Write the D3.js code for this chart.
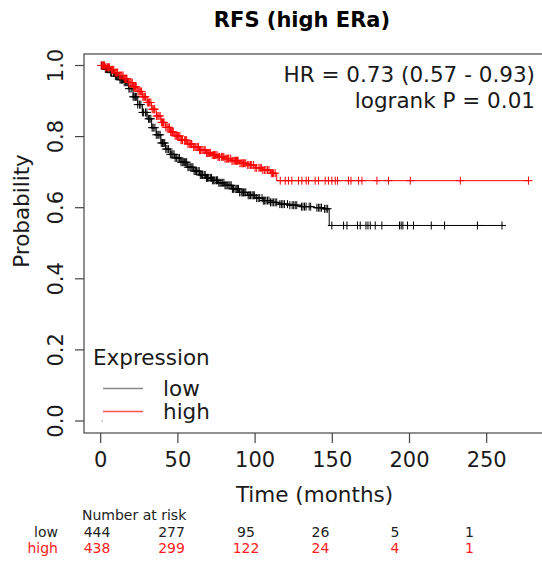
<!DOCTYPE html>
<html lang="en">
<head>
  <meta charset="utf-8">
  <title>RFS (high ERa)</title>
  <script src="https://cdn.jsdelivr.net/npm/d3@7"></script>
  <style>
    body { margin: 0; background: #fff; }
    svg { font-family: "DejaVu Sans", sans-serif; }
  </style>
</head>
<body>
<svg width="542" height="561"></svg>
<script>

  // survival steps: [months, probability]
  var lowSteps = [
    [0, 1.0], [3, 0.99], [6, 0.98], [9, 0.97], [12, 0.96], [15, 0.953], [18, 0.935],
    [21, 0.912], [24, 0.89], [27, 0.868], [30, 0.85], [33, 0.825], [36, 0.805],
    [39, 0.782], [42, 0.765], [45, 0.75], [48, 0.74], [52, 0.728], [56, 0.714],
    [60, 0.703], [64, 0.692], [68, 0.684], [72, 0.677], [76, 0.67], [80, 0.663],
    [85, 0.653], [90, 0.643], [95, 0.635], [100, 0.627], [105, 0.62], [110, 0.615],
    [115, 0.61], [122, 0.607], [130, 0.603], [138, 0.6], [144, 0.597], [148, 0.55]
  ];
  var lowEnd = 260;

  var highSteps = [
    [0, 1.0], [3, 0.995], [6, 0.988], [9, 0.98], [12, 0.972], [15, 0.963], [18, 0.952],
    [21, 0.94], [24, 0.927], [27, 0.912], [30, 0.896], [33, 0.877], [36, 0.858],
    [39, 0.84], [42, 0.826], [45, 0.813], [48, 0.802], [52, 0.79], [56, 0.779],
    [60, 0.771], [64, 0.762], [68, 0.754], [72, 0.748], [76, 0.743], [80, 0.738],
    [85, 0.732], [90, 0.725], [95, 0.72], [100, 0.712], [105, 0.706], [110, 0.697],
    [114, 0.676]
  ];
  var highEnd = 277;

  // censored times (months)
  var lowCensor = [0.5, 1.5, 2.2, 3, 3.8, 4.5, 5.3, 6.5, 7, 8.2, 9.5, 10.2, 11, 11.8,
    12.5, 13.3, 14, 15.2, 16, 16.8, 17.5, 18.3, 19, 20.2, 21, 21.7, 22.5, 23.3, 24,
    25.2, 26, 27, 27.8, 29, 29.9, 31, 31.7, 32.5, 33.3, 34, 35.1, 36, 37, 37.7, 38.5,
    39.2, 40, 40.8, 41.5, 42.2, 43, 44, 45.1, 46, 46.7, 47.5, 48.2, 49, 50.1, 51, 52,
    52.8, 53.5, 54.2, 55, 55.7, 56.5, 57.2, 58, 59, 59.7, 60.5, 61.3, 62, 63, 63.8,
    64.5, 65.2, 66, 67, 67.7, 68.5, 69.2, 70, 71, 71.8, 72.5, 73.2, 74, 75, 75.7,
    76.5, 77.3, 78, 79, 79.8, 80.5, 81.2, 82, 83, 83.7, 84.5, 85.3, 86, 87, 87.8,
    88.5, 89.2, 90, 91, 91.7, 92.5, 93.3, 94, 95.5, 96.2, 97, 98, 98.8, 99.5, 101,
    102, 103, 104.5, 105.3, 106, 107, 108, 109, 110, 111, 112, 113, 114, 116, 117,
    118, 119, 121, 122.5, 124, 125, 126, 127, 130, 131, 132, 133, 135, 136, 140, 141,
    142, 143, 145, 146, 147,
    149.7, 157.3, 159.5, 166.3, 168.1, 171.8, 173.1, 174.6, 177.8, 182.1, 193.5,
    194.6, 195.7, 198.7, 202.6, 214.1, 222.7, 244, 259.9];

  var highCensor = [0.3, 1, 1.8, 2.5, 3.2, 4, 4.6, 5, 5.8, 7, 7.7, 8.5, 9.3, 10, 10.6,
    11, 12.2, 13, 13.7, 14.5, 15.3, 16, 16.6, 17, 18.2, 19, 19.7, 20.5, 21.3, 22, 22.6,
    23, 24.2, 25, 25.7, 26.5, 27.3, 28, 28.6, 29, 30.2, 31, 31.7, 32.5, 33.3, 34,
    34.6, 35, 36.2, 37, 37.7, 38.5, 39.3, 40, 40.6, 41, 42.2, 43, 43.7, 44.5, 45.3,
    46, 46.6, 47, 48.2, 49, 49.7, 50.5, 51.3, 52, 52.6, 53, 54.2, 55, 55.7, 56.5,
    57.3, 58, 58.6, 59, 60.2, 61, 61.7, 62.5, 63.3, 64, 64.6, 65, 66.2, 67, 67.7,
    68.5, 69.3, 70, 70.6, 71, 72.2, 73, 73.7, 74.5, 75.3, 76, 76.6, 77, 78.2, 79,
    79.7, 80.5, 81.3, 82, 82.6, 83, 84.2, 85, 85.7, 86.5, 87.3, 88, 88.6, 89, 90.2,
    91, 91.7, 92.5, 93.3, 94, 95.2, 96, 97, 97.8, 99, 100, 101, 102.5, 103.3, 104,
    105, 106, 107, 108, 109, 110.5, 111.3, 112, 113,
    116.3, 119.5, 121.6, 123.8, 128.1, 130.3, 133.1, 134.6, 138.9, 141.1, 145.4,
    147.5, 149.7, 151.9, 153.4, 160.5, 162.1, 167, 169.2, 178.9, 186.4, 200.5,
    232.9, 277.1];

  var xTicks = [0, 50, 100, 150, 200, 250];
  var yTicks = [0, 0.2, 0.4, 0.6, 0.8, 1.0];
  var riskTimes = [0, 50, 100, 150, 200, 250];
  var riskLow = [444, 277, 95, 26, 5, 1];
  var riskHigh = [438, 299, 122, 24, 4, 1];

  var svg = d3.select("svg");
  var box = {left: 84, top: 54, right: 547, bottom: 433};

  var x = d3.scaleLinear().domain([0, 250]).range([100.7, 486.7]);
  var y = d3.scaleLinear().domain([0, 1]).range([421, 65.5]);
  var xr = d3.scaleLinear().domain([0, 250]).range([97, 469.5]);

  // title
  svg.append("text")
      .attr("x", 302).attr("y", 27)
      .attr("text-anchor", "middle")
      .style("font-size", "21px").style("font-weight", "bold")
      .text("RFS (high ERa)");

  // plot box
  svg.append("rect")
      .attr("x", box.left).attr("y", box.top)
      .attr("width", box.right - box.left).attr("height", box.bottom - box.top)
      .attr("fill", "none").attr("stroke", "#555").attr("stroke-width", 1.3);

  // x axis
  var xa = svg.append("g");
  xa.selectAll("line").data(xTicks).enter().append("line")
      .attr("x1", function(d) { return x(d); }).attr("x2", function(d) { return x(d); })
      .attr("y1", box.bottom).attr("y2", box.bottom + 10)
      .attr("stroke", "#444").attr("stroke-width", 1.2);
  xa.selectAll("text").data(xTicks).enter().append("text")
      .attr("x", function(d) { return x(d); }).attr("y", 467)
      .attr("text-anchor", "middle")
      .style("font-size", "21px").attr("fill", "#1a1a1a")
      .text(function(d) { return d; });
  svg.append("text")
      .attr("x", 314.5).attr("y", 502)
      .attr("text-anchor", "middle")
      .style("font-size", "21.5px").attr("fill", "#1a1a1a")
      .text("Time (months)");

  // y axis
  var ya = svg.append("g");
  ya.selectAll("line").data(yTicks).enter().append("line")
      .attr("x1", box.left - 9).attr("x2", box.left)
      .attr("y1", function(d) { return y(d); }).attr("y2", function(d) { return y(d); })
      .attr("stroke", "#444").attr("stroke-width", 1.2);
  ya.selectAll("text").data(yTicks).enter().append("text")
      .attr("transform", function(d) { return "translate(63," + y(d) + ") rotate(-90)"; })
      .attr("text-anchor", "middle")
      .style("font-size", "21px").attr("fill", "#1a1a1a")
      .text(function(d) { return d.toFixed(1); });
  svg.append("text")
      .attr("transform", "translate(29,211) rotate(-90)")
      .attr("text-anchor", "middle")
      .style("font-size", "21.5px").attr("fill", "#1a1a1a")
      .text("Probability");

  // curves
  var line = d3.line()
      .curve(d3.curveStepAfter)
      .x(function(d) { return x(d[0]); })
      .y(function(d) { return y(d[1]); });

  var bis = d3.bisector(function(d) { return d[0]; }).right;
  function survAt(steps, t) { return steps[Math.max(0, bis(steps, t) - 1)][1]; }

  function drawCurve(steps, end, censor, color) {
    var pts = steps.concat([[end, steps[steps.length - 1][1]]]);
    var g = svg.append("g");
    g.append("path")
        .attr("d", line(pts))
        .attr("fill", "none").attr("stroke", color).attr("stroke-width", 1);
    g.selectAll("path.cm").data(censor).enter().append("path")
        .attr("class", "cm")
        .attr("d", function(t) {
          var cx = x(t), cy = y(survAt(steps, t));
          return "M" + (cx - 4) + "," + cy + "H" + (cx + 4) + "M" + cx + "," + (cy - 4) + "V" + (cy + 4);
        })
        .attr("fill", "none").attr("stroke", color).attr("stroke-width", 1);
  }
  drawCurve(lowSteps, lowEnd, lowCensor, "#000");
  drawCurve(highSteps, highEnd, highCensor, "#ff0000");

  // stray point at origin
  svg.append("circle").attr("cx", x(0) + 1.5).attr("cy", y(0)).attr("r", 0.7).attr("fill", "#888");

  // stats
  svg.append("text").attr("x", 535).attr("y", 82).attr("text-anchor", "end")
      .style("font-size", "21.5px").attr("fill", "#1a1a1a")
      .text("HR = 0.73 (0.57 - 0.93)");
  svg.append("text").attr("x", 535).attr("y", 108).attr("text-anchor", "end")
      .style("font-size", "21.5px").attr("fill", "#1a1a1a")
      .text("logrank P = 0.01");

  // legend
  svg.append("text").attr("x", 93).attr("y", 365)
      .style("font-size", "21.5px").attr("fill", "#1a1a1a").text("Expression");
  var legend = [["low", "#888", 388.5], ["high", "#ff5050", 411.5]];
  legend.forEach(function(l) {
    svg.append("line").attr("x1", 103).attr("x2", 143).attr("y1", l[2]).attr("y2", l[2])
        .attr("stroke", l[1]).attr("stroke-width", 1.5);
    svg.append("text").attr("x", 163).attr("y", l[2] + 7)
        .style("font-size", "21.5px").attr("fill", "#1a1a1a").text(l[0]);
  });

  // number at risk table
  svg.append("text").attr("x", 82).attr("y", 520)
      .style("font-size", "14px").attr("fill", "#222").text("Number at risk");
  svg.append("text").attr("x", 58).attr("y", 537).attr("text-anchor", "end")
      .style("font-size", "14px").attr("fill", "#222").text("low");
  svg.append("text").attr("x", 58).attr("y", 553).attr("text-anchor", "end")
      .style("font-size", "14px").attr("fill", "#ff2020").text("high");
  svg.append("g").selectAll("text").data(riskLow).enter().append("text")
      .attr("x", function(d, i) { return xr(riskTimes[i]); }).attr("y", 537)
      .attr("text-anchor", "middle").style("font-size", "14px").attr("fill", "#222")
      .text(function(d) { return d; });
  svg.append("g").selectAll("text").data(riskHigh).enter().append("text")
      .attr("x", function(d, i) { return xr(riskTimes[i]); }).attr("y", 553)
      .attr("text-anchor", "middle").style("font-size", "14px").attr("fill", "#ff2020")
      .text(function(d) { return d; });

</script>
</body>
</html>
